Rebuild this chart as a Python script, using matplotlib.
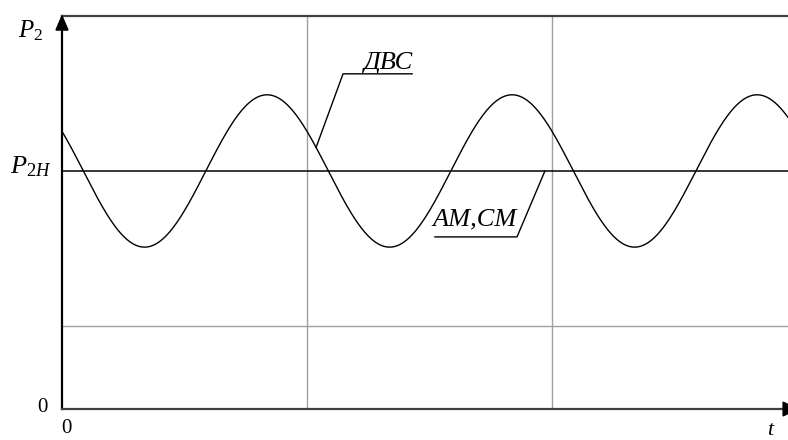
import numpy as np
import matplotlib
matplotlib.use("Agg")
import matplotlib.pyplot as plt
from matplotlib.patches import Polygon

plt.rcParams["mathtext.fontset"] = "custom"
plt.rcParams["mathtext.rm"] = "Liberation Serif"
plt.rcParams["mathtext.it"] = "Liberation Serif:italic"

# Power oscillation of the engine-driven generator (relative units,
# one vertical grid cell of time = 1)
p_nominal = 1.0        # P2H, rated power level
p_amplitude = 0.32     # swing of the ДВС curve
p_period = 1.0
p_peak_time = 0.837    # time of the first maximum
t_end = 2.963
grid_t = [1.0, 2.0]
grid_p = [0.35]
p_top = 1.651

label_dvs = "ДВС"
label_am = "АМ,СМ"

fig = plt.figure(figsize=(7.88, 4.40), dpi=100)
ax = fig.add_axes([62 / 788, 31 / 440, 726 / 788, 393 / 440])
ax.set_xlim(0, t_end)
ax.set_ylim(0, p_top)
ax.set_xticks([])
ax.set_yticks([])
ax.spines["right"].set_visible(False)
ax.spines["left"].set_color("black")
ax.spines["left"].set_linewidth(1.6)
ax.spines["bottom"].set_color("#404040")
ax.spines["bottom"].set_linewidth(1.6)
ax.spines["top"].set_color("#404040")
ax.spines["top"].set_linewidth(1.6)

for g in grid_t:
    ax.axvline(g, color="#a0a0a0", lw=1.0, zorder=1)
for g in grid_p:
    ax.axhline(g, color="#a0a0a0", lw=1.0, zorder=1)

ax.axhline(p_nominal, color="black", lw=1.1, zorder=2)

t = np.linspace(0, t_end, 1500)
p = p_nominal + p_amplitude * np.cos(2 * np.pi * (t - p_peak_time) / p_period)
ax.plot(t, p, color="black", lw=1.0, zorder=3)

text_kw = dict(fontsize=19, fontfamily="Liberation Serif", style="italic")

# leader for ДВС
dvs_shelf = (1.147, 1.429, 1.408)
dvs_target = 1.037
dvs_y = p_nominal + p_amplitude * np.cos(2 * np.pi * (dvs_target - p_peak_time) / p_period)
ax.plot([dvs_shelf[1], dvs_shelf[0], dvs_target], [dvs_shelf[2], dvs_shelf[2], dvs_y],
        color="black", lw=1.0, zorder=3)
ax.text(dvs_shelf[1], 1.429, label_dvs, ha="right", va="baseline", **text_kw)

# leader for АМ,СМ
am_shelf = (1.522, 1.857, 0.723)
am_target = 1.971
ax.plot([am_shelf[0], am_shelf[1], am_target], [am_shelf[2], am_shelf[2], p_nominal],
        color="black", lw=1.0, zorder=3)
ax.text(1.686, 0.769, label_am, ha="center", va="baseline", **text_kw)

# axis arrows
ax.add_patch(Polygon([[0, p_top], [-0.0245, p_top - 0.059], [0.0245, p_top - 0.059]],
                     closed=True, color="black", clip_on=False, zorder=5))
ax.add_patch(Polygon([[3.0, 0], [2.943, -0.029], [2.943, 0.029]],
                     closed=True, color="black", clip_on=False, zorder=5))

# axis labels
fig.text(31 / 788, 1 - 31 / 440, r"$P_{\mathrm{2}}$", ha="center", va="center", fontsize=18)
fig.text(31 / 788, 1 - 166 / 440, r"$P_{2H}$", ha="center", va="center", fontsize=19)
fig.text(42 / 788, 1 - 407 / 440, "0", ha="center", va="center", fontsize=15,
         fontfamily="Liberation Serif")
fig.text(66 / 788, 1 - 428 / 440, "0", ha="center", va="center", fontsize=15,
         fontfamily="Liberation Serif")
fig.text(770 / 788, 1 - 430 / 440, "t", ha="center", va="center", fontsize=16,
         fontfamily="Liberation Serif", style="italic")

fig.savefig("out.png", dpi=100)
